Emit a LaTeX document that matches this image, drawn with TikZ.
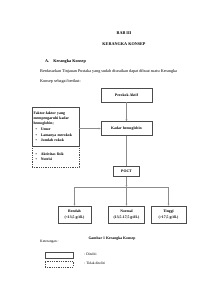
\documentclass[tikz,border=0pt]{standalone}
\usepackage{fontspec}
\setmainfont{Liberation Serif}
\usetikzlibrary{arrows.meta,positioning}

\begin{document}
\begin{tikzpicture}[
            x=1pt, y=-1pt,
            every node/.style={font=\fontsize{4.2}{5}\selectfont, inner sep=0pt},
            nd/.style={draw=black!70, line width=0.6pt, align=center, font=\fontsize{3.8}{4.6}\selectfont\bfseries},
            ln/.style={draw=black!45, line width=0.35pt},
            arr/.style={ln, -{Stealth[length=2pt,width=1.8pt]}},
        ]
            \fill[white] (0,0) rectangle (212,300);
            \useasboundingbox (0,0) rectangle (212,300);
            % heading and text
            \node[font=\fontsize{4.2}{5}\selectfont\bfseries] (bab) at (124,33) {BAB III};
            \node[font=\fontsize{4.2}{5}\selectfont\bfseries] (judul) at (124,44) {KERANGKA KONSEP};
            \node[anchor=west, font=\fontsize{4.2}{5}\selectfont\bfseries] (sub) at (45,62) {A.\hspace{4pt}Kerangka Konsep};
            \node[anchor=west] (par1) at (40,71) {Berdasarkan Tinjauan Pustaka yang sudah diuraikan dapat dibuat suatu Kerangka};
            \node[anchor=west] (par2) at (40,81) {Konsep sebagai berikut:};
            % boxes
            \node[nd, minimum width=51pt, minimum height=14pt] (perokok) at (126.5,95) {Perokok Aktif};
            \node[nd, minimum width=51pt, minimum height=14pt] (kadar) at (126.5,128.5) {Kadar hemoglobin};
            \node[nd, minimum width=47pt, minimum height=39pt, text width=44pt, align=left, font=\fontsize{3.8}{5.2}\selectfont\bfseries] (faktor) at (55.5,126.5)
                {Faktor-faktor yang\\mempengaruhi kadar\\hemoglobin;\\[1pt]
                 \hspace*{2pt}\textbullet\hspace{4pt}Umur\\
                 \hspace*{2pt}\textbullet\hspace{4pt}Lamanya merokok\\
                 \hspace*{2pt}\textbullet\hspace{4pt}Jumlah rokok};
            \node[nd, dashed, dash pattern=on 1pt off 0.8pt, minimum width=47pt, minimum height=21pt, text width=44pt, align=left, font=\fontsize{3.8}{5}\selectfont\bfseries] (lain) at (55.5,156.5)
                {\hspace*{2pt}\textbullet\hspace{4pt}Aktivitas fisik\\
                 \hspace*{2pt}\textbullet\hspace{4pt}Nutrisi};
            \node[nd, minimum width=26pt, minimum height=9.5pt] (poct) at (126.5,171.5) {POCT};
            \node[nd, minimum width=33pt, minimum height=17pt] (rendah) at (74.5,214.5) {Rendah\\[2pt](<13,5 g/dL)};
            \node[nd, minimum width=36pt, minimum height=17pt] (normal) at (126.5,214.5) {Normal\\[2pt](13,5-17,5 g/dL)};
            \node[nd, minimum width=35pt, minimum height=17pt] (tinggi) at (168.5,214.5) {Tinggi\\[2pt](>17,5 g/dL)};
            % connectors
            \coordinate (split) at (126.5,187);
            \coordinate (kiri) at (74.5,187);
            \coordinate (kanan) at (168.5,187);
            \draw[arr] (perokok) -- (kadar);
            \draw[arr] (faktor.east |- kadar.west) -- (kadar.west);
            \draw[ln] (kadar) -- (poct);
            \draw[arr] (poct) -- (split);
            \draw[ln] (kiri) -- (kanan);
            \draw[arr] (kiri) -- (rendah);
            \draw[arr] (split) -- (normal);
            \draw[arr] (kanan) -- (tinggi);
            % caption and legend
            \node[font=\fontsize{3.8}{5}\selectfont\bfseries] (gambar) at (112,239) {Gambar 1 Kerangka Konsep};
            \node[anchor=west, font=\fontsize{3.6}{5}\selectfont] (ket) at (40,242) {Keterangan :};
            \node[nd, minimum width=28pt, minimum height=6pt] (diteliti) at (59,255) {};
            \node[nd, dashed, dash pattern=on 1pt off 0.8pt, minimum width=28pt, minimum height=6pt] (tidak) at (59,264) {};
            \node[anchor=west, font=\fontsize{3.6}{5}\selectfont] (lbl1) at (84,254) {: Diteliti};
            \node[anchor=west, font=\fontsize{3.6}{5}\selectfont] (lbl2) at (84,263.5) {: Tidak diteliti};
        \end{tikzpicture}
\end{document}
